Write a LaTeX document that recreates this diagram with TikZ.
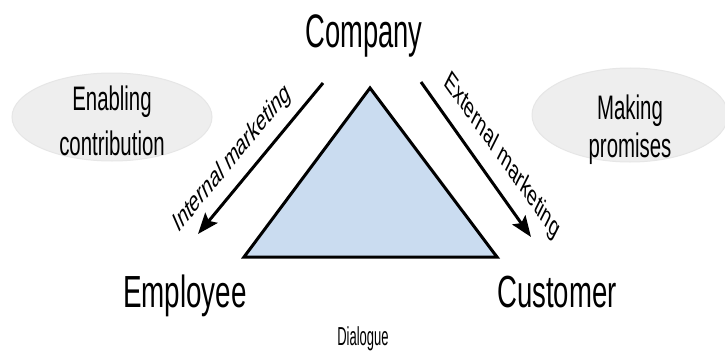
\documentclass[tikz,border=0pt]{standalone}
\usepackage{fontspec}
\setmainfont{Liberation Sans}
\usetikzlibrary{arrows.meta,shapes.geometric}
\definecolor{tribl}{RGB}{202,220,240}
\definecolor{ellfill}{RGB}{238,238,238}
\definecolor{elledge}{RGB}{230,230,230}
\tikzset{
  lbl/.style={inner sep=0pt, xscale=0.6, anchor=base},
  rlbl/.style={inner sep=0pt, xscale=0.6, anchor=center, font=\fontsize{29}{32}\selectfont},
  bubble/.style={ellipse, draw=elledge, fill=ellfill, line width=1pt, inner sep=0pt},
  bigarrow/.style={line width=3pt, -{Stealth[length=21pt,width=16pt,inset=4pt]}},
  tri/.style={line width=3pt, fill=tribl, line join=miter},
}
\begin{document}
\begin{tikzpicture}[x=1pt,y=-1pt]
\useasboundingbox[fill=white] (0,0) rectangle (725,361);
% bubbles
\node[bubble, minimum width=200pt, minimum height=88pt] (lb) at (112,117) {};
\node[bubble, minimum width=196pt, minimum height=94pt] (rb) at (630,115) {};
\node[lbl, font=\fontsize{34}{38}\selectfont] (en) at (112,110) {Enabling};
\node[lbl, font=\fontsize{34}{38}\selectfont] (co) at (112,155) {contribution};
\node[lbl, font=\fontsize{34}{38}\selectfont] (mk) at (630,119) {Making};
\node[lbl, font=\fontsize{34}{38}\selectfont] (pr) at (630,157) {promises};
% triangle
\coordinate (apex) at (370,88);
\coordinate (bl) at (244,257);
\coordinate (br) at (497,257);
\draw[tri] (apex) -- (bl) -- (br) -- cycle;
% arrows
\coordinate (ls) at (323,83);
\coordinate (le) at (198,234);
\coordinate (rs) at (421,82);
\coordinate (re) at (531,237);
\draw[bigarrow] (ls) -- (le);
\draw[bigarrow] (rs) -- (re);
\node[rlbl, rotate=36] (im) at (232,159) {Internal marketing};
\node[rlbl, rotate=-40] (xm) at (502,156) {External marketing};
% main labels
\node[lbl, font=\fontsize{47}{50}\selectfont, xscale=0.97] (cmp) at (364,48) {Company};
\node[lbl, font=\fontsize{45}{50}\selectfont, xscale=1.03] (emp) at (185,307) {Employee};
\node[lbl, font=\fontsize{45}{50}\selectfont, xscale=1.02] (cus) at (557,307) {Customer};
\node[inner sep=0pt, anchor=base, xscale=0.5, font=\fontsize{26}{28}\selectfont] (dia) at (363,345) {Dialogue};
\end{tikzpicture}
\end{document}
